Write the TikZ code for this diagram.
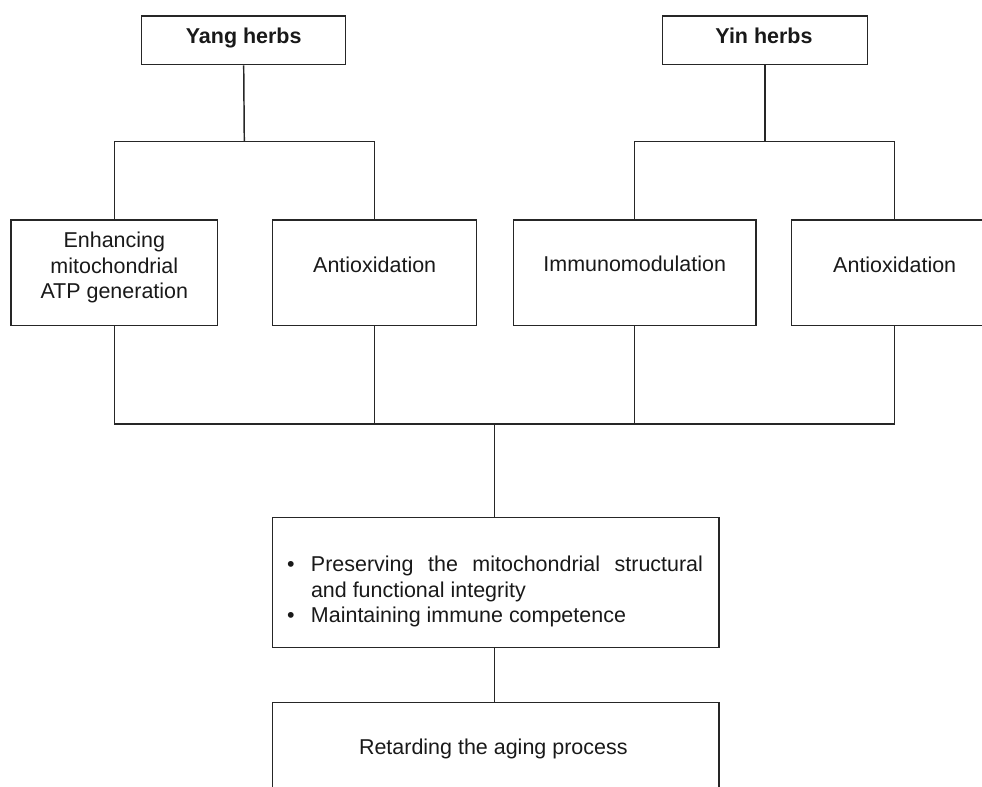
\documentclass[tikz,border=0pt]{standalone}
\usepackage{fontspec}
\setmainfont{Liberation Sans}
\begin{document}
\begin{tikzpicture}[
  x=0.75pt, y=-0.75pt,
  line width=1.1pt,
  box/.style={draw=black!85, line width=1.1pt, inner sep=0pt, minimum height=79pt},
  conn/.style={draw=black!85, line width=1.1pt},
  txt/.style={inner sep=0pt, text=black!90, font=\fontsize{16.1}{19.2}\selectfont},
  bold/.style={txt, font=\fontsize{16.1}{19.2}\selectfont\bfseries},
]
\useasboundingbox (0,0) rectangle (982,787);
\clip (0,0) rectangle (982,787);

% herb groups
\node[box, minimum width=153pt, minimum height=36.5pt] (yang) at (243.7,40.3) {};
\node[box, minimum width=154pt, minimum height=36.5pt] (yin)  at (765,40.3) {};
\node[bold, anchor=base] (yangtxt) at (243.7,44) {Yang herbs};
\node[bold, anchor=base] (yintxt)  at (764,44) {Yin herbs};

% effects
\node[box, minimum width=155pt]   (enh)  at (114.3,272.7) {};
\node[box, minimum width=153pt]   (antL) at (374.7,272.7) {};
\node[box, minimum width=182pt]   (imm)  at (634.7,272.7) {};
\node[box, minimum width=154.5pt] (antR) at (894.7,272.7) {};
\node[txt, align=center] (enhtxt) at (114.3,267.6) {Enhancing\\mitochondrial\\ATP generation};
\node[txt, anchor=base] (antLtxt) at (374.7,272.7) {Antioxidation};
\node[txt, anchor=base] (immtxt)  at (634.7,271.7) {Immunomodulation};
\node[txt, anchor=base] (antRtxt) at (894.7,272.7) {Antioxidation};

% outcomes
\node[box, minimum width=335pt, minimum height=97.5pt] (mid) at (495.7,582.3) {};
\node[box, minimum width=335pt, minimum height=97.5pt] (bot) at (495.7,767.3) {};
\node[txt, text width=312pt, align=justify] (midtxt) at (495,591.6) {%
  \tolerance=10000\hbadness=10000
  \noindent\hangindent=18pt\hangafter=1\makebox[18pt][l]{\textbullet}Preserving the mitochondrial structural and functional integrity\par
  \noindent\hangindent=18pt\hangafter=1\makebox[18pt][l]{\textbullet}Maintaining immune competence\par};
\node[txt, anchor=base] (bottxt) at (493.3,754.5) {Retarding the aging process};

% branching connectors
\coordinate (yangbar) at (244.3,141.7);
\coordinate (yinbar)  at (765,141.7);
\coordinate (merge)   at (494.3,424);
\draw[conn] (yang.south) -- (yangbar);
\draw[conn] (enh.north) |- (yangbar) -| (antL.north);
\draw[conn] (yin.south) -- (yinbar);
\draw[conn] (imm.north) |- (yinbar) -| (antR.north);
\draw[conn] (enh.south) |- (merge) -| (antR.south);
\draw[conn] (antL.south) -- (antL.south |- merge);
\draw[conn] (imm.south) -- (imm.south |- merge);
\draw[conn] (merge) -- (merge |- mid.north);
\draw[conn] (mid.south -| merge) -- (bot.north -| merge);
\end{tikzpicture}
\end{document}
